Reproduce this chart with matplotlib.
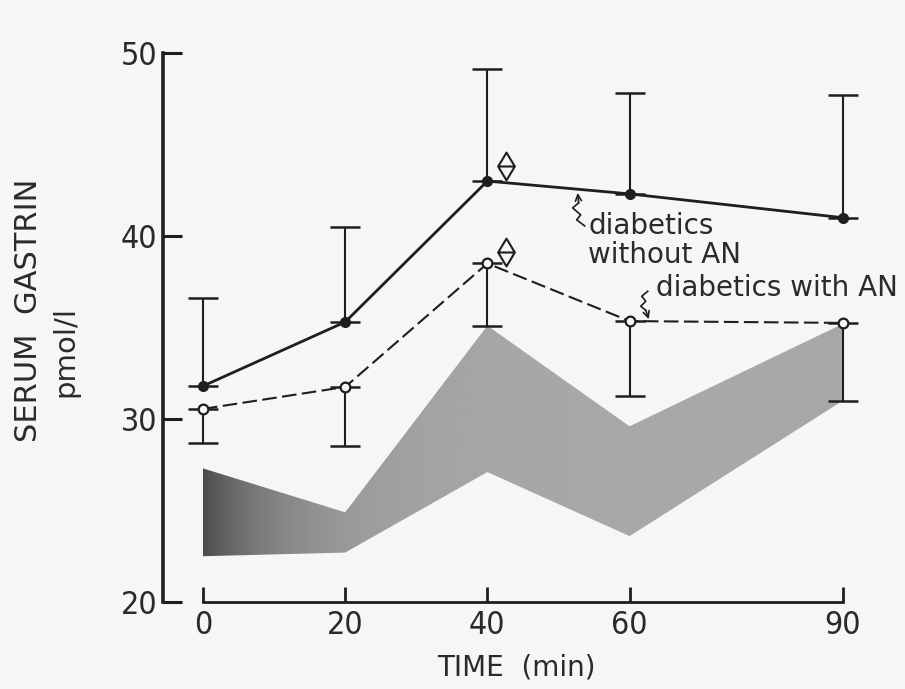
import numpy as np
import matplotlib
matplotlib.use("Agg")
import matplotlib.pyplot as plt
from matplotlib.path import Path
from matplotlib.patches import PathPatch

# Sampling times (min)
time_min = [0, 20, 40, 60, 90]
xtick_labels = ["0", "20", "40", "60", "90"]
ytick_values = [20, 30, 40, 50]

# Diabetics without autonomic neuropathy (mean and upper SD)
no_an_mean = [31.8, 35.3, 43.0, 42.3, 41.0]
no_an_err = [4.8, 5.2, 6.1, 5.5, 6.7]

# Diabetics with autonomic neuropathy (mean and lower SD)
an_mean = [30.55, 31.75, 38.5, 35.35, 35.25]
an_err = [1.85, 3.25, 3.4, 4.1, 4.25]

# Control range (shaded band)
ctrl_upper = [27.3, 24.9, 35.1, 29.6, 35.2]
ctrl_lower = [22.5, 22.7, 27.1, 23.6, 31.0]

ink = "#1e1e1e"
txt = "#2a2a2a"
paper = "#f6f6f4"

fig = plt.figure(figsize=(9.05, 6.89), dpi=100, facecolor=paper)
ax = fig.add_axes([0.2243, 0.1263, 0.707, 0.7968])
ax.set_facecolor(paper)
ax.set_xlim(0, 90)
ax.set_ylim(20, 50)

# Shaded control band with a left-to-right gradient
band = ax.fill_between(time_min, ctrl_lower, ctrl_upper, facecolor="none",
                       edgecolor="none", zorder=1)
grad = np.linspace(0, 1, 256)
shade = 0.30 + 0.36 * (1 - np.exp(-grad * 8))
shade = np.tile(shade, (8, 1))
img = ax.imshow(shade, cmap="gray", vmin=0, vmax=1, aspect="auto",
                extent=[0, 90, 20, 50], zorder=1, interpolation="bilinear")
clip = PathPatch(band.get_paths()[0], transform=ax.transData,
                 facecolor="none", edgecolor="none")
ax.add_patch(clip)
img.set_clip_path(clip)


def unclip(container):
    for child in container.get_children():
        child.set_clip_on(False)


# Diabetics without AN: solid line, filled dots, upward error bars
eb1 = ax.errorbar(time_min, no_an_mean, yerr=[np.zeros(5), no_an_err],
                  fmt="none", ecolor=ink, elinewidth=1.5, capsize=11,
                  capthick=1.8, zorder=3)
unclip(eb1)
ax.plot(time_min, no_an_mean, "-", color=ink, lw=2.0, marker="o",
        ms=7, mfc=ink, mec=ink, zorder=4, clip_on=False)

# Diabetics with AN: dashed line, open circles, downward error bars
eb2 = ax.errorbar(time_min, an_mean, yerr=[an_err, np.zeros(5)],
                  fmt="none", ecolor=ink, elinewidth=1.5, capsize=11,
                  capthick=1.8, zorder=3)
unclip(eb2)
ax.plot(time_min, an_mean, "-", color=ink, lw=1.5, dashes=(7, 2.6),
        marker="o", ms=7, mfc=paper, mec=ink, mew=1.6, zorder=4,
        clip_on=False)

# Significance symbols beside the 40 min means
sig = Path([(0, 1), (0.6, 0), (0, -1), (-0.6, 0), (0, 1), (-0.6, 0), (0.6, 0)],
           [Path.MOVETO, Path.LINETO, Path.LINETO, Path.LINETO, Path.CLOSEPOLY,
            Path.MOVETO, Path.LINETO])
for yv, dy in ((no_an_mean[2], 0.8), (an_mean[2], 0.6)):
    ax.plot([time_min[2] + 2.6], [yv + dy], marker=sig, ms=20, mfc="none",
            mec=ink, mew=1.5, ls="none", zorder=5)


def squiggle(xy, offs):
    """Arrow to xy whose tail is a small zigzag given in pixel offsets."""
    pts = np.array(offs, dtype=float)
    disp = ax.transData.transform(xy)
    data = ax.transData.inverted().transform(disp + pts)
    ax.annotate("", xy=xy, xytext=data[1], xycoords="data",
                arrowprops=dict(arrowstyle="->,head_length=0.45,head_width=0.22",
                                color=ink, lw=1.2, shrinkA=0, shrinkB=0),
                zorder=6)
    ax.plot(data[1:, 0], data[1:, 1], color=ink, lw=1.2, zorder=6,
            clip_on=False)


x_a = 52.7
y_a = np.interp(x_a, time_min, no_an_mean) - 0.2
squiggle((x_a, y_a), [(0, 0), (1, -10), (-5, -15), (3, -22), (-1, -27), (7, -33)])
ax.text(54.2, 39.75, "diabetics\nwithout AN", fontsize=20, color=txt,
        ha="left", va="center", linespacing=1.05)

x_b = 62.7
y_b = an_mean[3] + 0.1
squiggle((x_b, y_b), [(0, 0), (-3, 9), (-8, 13), (-3, 18), (-7, 23), (-1, 28)])
ax.text(63.7, 37.15, "diabetics with AN", fontsize=20, color=txt,
        ha="left", va="center", clip_on=False)

# Axes styling: detached y axis, x axis starting at time 0
for s in ("top", "right"):
    ax.spines[s].set_visible(False)
ax.spines["left"].set_position(("outward", 29))
ax.spines["left"].set_linewidth(2.6)
ax.spines["bottom"].set_linewidth(2.0)
ax.spines["left"].set_color(ink)
ax.spines["bottom"].set_color(ink)

ax.set_yticks(ytick_values)
ax.set_yticklabels([str(v) for v in ytick_values])
ax.set_xticks(time_min)
ax.set_xticklabels(xtick_labels)
ax.tick_params(axis="y", direction="in", length=14, width=2.2, color=ink,
               labelsize=23, pad=4, labelcolor=txt)
ax.tick_params(axis="x", direction="in", length=11, width=2.0, color=ink,
               labelsize=23, pad=6, labelcolor=txt)
for lab in ax.get_xticklabels() + ax.get_yticklabels():
    lab.set_fontstretch("condensed")

fig.text(0.031, 0.55, "SERUM  GASTRIN", rotation=90, fontsize=22,
         ha="center", va="center", color=txt)
fig.text(0.072, 0.49, "pmol/l", rotation=90, fontsize=21,
         ha="center", va="center", color=txt)
fig.text(0.571, 0.031, "TIME  (min)", fontsize=20, ha="center",
         va="center", color=txt)

fig.savefig("out.png", dpi=100, facecolor=paper)
